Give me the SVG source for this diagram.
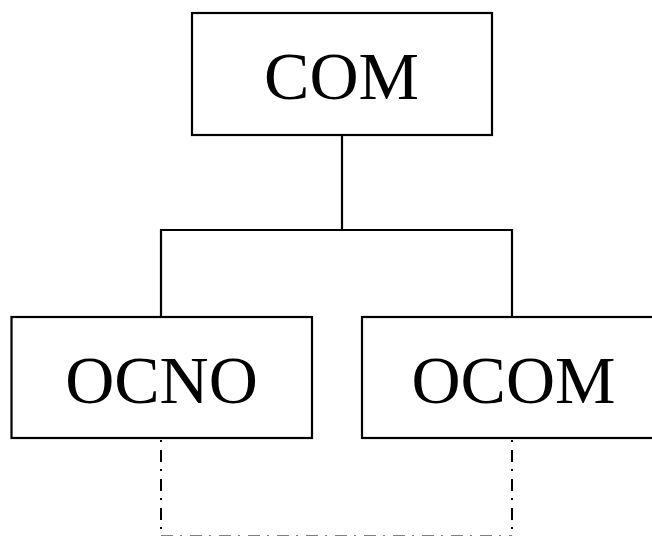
<svg xmlns="http://www.w3.org/2000/svg" width="652" height="536" viewBox="0 0 652 536">
<style>
.box{fill:#fff;stroke:#000;stroke-width:2.2}
.lbl{font-family:"Liberation Serif","Times New Roman",serif;font-size:68px;fill:#000;text-anchor:middle}
.ln{fill:none;stroke:#000;stroke-width:2.2}
.dd{fill:none;stroke:#000;stroke-width:2;stroke-dasharray:12 7 2 8}
</style>
<rect width="652" height="536" fill="#fff"/>
<g id="connectors">
<path class="ln" d="M342 135V230M161 230H512M161 229V317M512 229V317"/>
<path class="dd" d="M161 438V537" stroke-dashoffset="17"/>
<path class="dd" d="M512 438V537" stroke-dashoffset="17"/>
<path class="dd" d="M161 536.5H512"/>
</g>
<g id="com">
<rect class="box" x="192" y="13" width="300" height="122"/>
<text class="lbl" x="341.5" y="99">COM</text>
</g>
<g id="ocno">
<rect class="box" x="11.5" y="317" width="300.5" height="121"/>
<text class="lbl" x="161.5" y="403">OCNO</text>
</g>
<g id="ocom">
<rect class="box" x="362" y="317" width="300" height="121"/>
<text class="lbl" x="513.5" y="403">OCOM</text>
</g>
</svg>
